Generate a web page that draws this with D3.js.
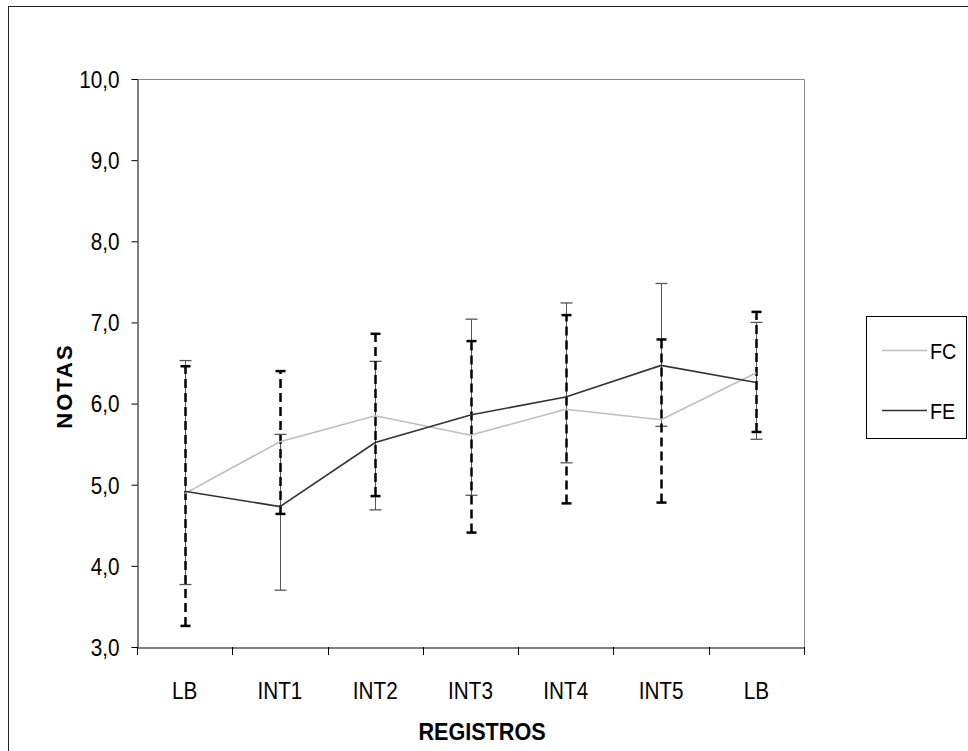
<!DOCTYPE html>
<html>
<head>
<meta charset="utf-8">
<script src="https://cdnjs.cloudflare.com/ajax/libs/d3/7.8.5/d3.min.js"></script>
<style>
  body { margin: 0; background: #fff; }
  text { font-family: "Liberation Sans", Arial, sans-serif; fill: #000; }
</style>
</head>
<body>
<div id="chart"></div>
<script>
// categories (LB appears twice, so positions are indexed)
var categories = ['LB', 'INT1', 'INT2', 'INT3', 'INT4', 'INT5', 'LB'];
var yTicks = [3, 4, 5, 6, 7, 8, 9, 10];

// mean scores
var fc = [4.89, 5.53, 5.85, 5.61, 5.93, 5.80, 6.38];
var fe = [4.92, 4.73, 5.52, 5.86, 6.08, 6.47, 6.26];

// dashed error bars (FC)
var fcHigh = [6.46, 6.40, 6.86, 6.77, 7.09, 6.79, 7.13];
var fcLow  = [3.26, 4.64, 4.86, 4.41, 4.77, 4.78, 5.65];

// thin error bars (FE)
var feHigh = [6.53, 5.62, 6.52, 7.04, 7.24, 7.48, 7.00];
var feLow  = [3.77, 3.70, 4.69, 4.87, 5.27, 5.72, 5.56];

var W = 968, H = 751;
var plotL = 137, plotR = 804, plotT = 79, plotB = 647;
var sx = 0.9; // text looks a bit narrow in the original

var svg = d3.select('#chart').append('svg')
  .attr('width', W)
  .attr('height', H);

// outer frame
svg.append('rect')
  .attr('x', 8.5).attr('y', 6.5)
  .attr('width', 1000).attr('height', 800)
  .attr('fill', 'none')
  .attr('stroke', '#222');

var idx = d3.range(categories.length);

var xScale = d3.scaleBand()
  .domain(idx)
  .range([plotL, plotR]);

var yScale = d3.scaleLinear()
  .domain([3, 10])
  .range([plotB, plotT]);

function xc(i) { return xScale(i) + xScale.bandwidth() / 2; }

// plot area border (top + right, grey)
svg.append('path')
  .attr('d', 'M' + plotL + ',' + (plotT + 0.5) + 'H' + (plotR + 0.5) + 'V' + plotB)
  .attr('fill', 'none')
  .attr('stroke', '#888');

// y axis
var yAxis = d3.axisLeft(yScale)
  .tickValues(yTicks)
  .tickSize(6)
  .tickSizeOuter(0)
  .tickFormat(function(d) { return d3.format('.1f')(d).replace('.', ','); });

svg.append('g')
  .attr('transform', 'translate(' + (plotL + 0.5) + ',0)')
  .call(yAxis)
  .call(function(g) {
    g.select('.domain').attr('stroke', '#000');
    g.selectAll('.tick line').attr('stroke', '#000');
    g.selectAll('.tick text')
      .attr('x', -18 / sx)
      .attr('dy', '0.36em')
      .attr('transform', 'scale(' + sx + ',1)')
      .style('font-size', '23px')
      .style('font-family', '"Liberation Sans", Arial, sans-serif')
      .attr('fill', '#000');
  });

// x axis: labels at band centres, ticks on band edges
var xAxis = d3.axisBottom(xScale)
  .tickSize(0)
  .tickSizeOuter(0)
  .tickFormat(function(i) { return categories[i]; });

svg.append('g')
  .attr('transform', 'translate(0,' + (plotB + 0.5) + ')')
  .call(xAxis)
  .call(function(g) {
    g.select('.domain').attr('stroke', '#000');
    g.selectAll('.tick text')
      .attr('y', 43)
      .attr('dy', '0.36em')
      .attr('transform', 'scale(' + sx + ',1)')
      .style('font-size', '23px')
      .style('font-family', '"Liberation Sans", Arial, sans-serif')
      .attr('fill', '#000');
  });

svg.append('g')
  .selectAll('line')
  .data(idx.concat([categories.length]))
  .enter()
  .append('line')
  .attr('x1', function(i) { return Math.round(i < categories.length ? xScale(i) : plotR) + 0.5; })
  .attr('x2', function(i) { return Math.round(i < categories.length ? xScale(i) : plotR) + 0.5; })
  .attr('y1', plotB)
  .attr('y2', plotB + 8)
  .attr('stroke', '#000');

// thin solid error bars
var thin = svg.append('g');
idx.forEach(function(i) {
  var x = Math.round(xc(i)) + 0.5;
  thin.append('line')
    .attr('x1', x).attr('x2', x)
    .attr('y1', yScale(feHigh[i])).attr('y2', yScale(feLow[i]))
    .attr('stroke', '#555').attr('stroke-width', 1);
  [feHigh[i], feLow[i]].forEach(function(v) {
    thin.append('line')
      .attr('x1', x - 6).attr('x2', x + 6)
      .attr('y1', yScale(v)).attr('y2', yScale(v))
      .attr('stroke', '#555').attr('stroke-width', 1.3);
  });
});

// dashed error bars
var dashed = svg.append('g');
idx.forEach(function(i) {
  var x = Math.round(xc(i)) + 0.5;
  dashed.append('line')
    .attr('x1', x).attr('x2', x)
    .attr('y1', yScale(fcLow[i])).attr('y2', yScale(fcHigh[i]))
    .attr('stroke', '#000').attr('stroke-width', 2.5)
    .attr('stroke-dasharray', '9,5');
  [fcHigh[i], fcLow[i]].forEach(function(v) {
    dashed.append('line')
      .attr('x1', x - 5).attr('x2', x + 5)
      .attr('y1', yScale(v)).attr('y2', yScale(v))
      .attr('stroke', '#000').attr('stroke-width', 2.5);
  });
});

// lines
var line = d3.line()
  .x(function(d, i) { return xc(i); })
  .y(function(d) { return yScale(d); });

svg.append('path')
  .attr('d', line(fc))
  .attr('fill', 'none')
  .attr('stroke', '#bdbdbd')
  .attr('stroke-width', 1.6);

svg.append('path')
  .attr('d', line(fe))
  .attr('fill', 'none')
  .attr('stroke', '#333')
  .attr('stroke-width', 1.6);

// axis titles
svg.append('text')
  .attr('transform', 'translate(482,732) scale(' + sx + ',1)')
  .attr('text-anchor', 'middle')
  .attr('dominant-baseline', 'central')
  .style('font-size', '24px')
  .style('font-weight', 'bold')
  .text('REGISTROS');

svg.append('text')
  .attr('transform', 'translate(64,386) rotate(-90)')
  .attr('text-anchor', 'middle')
  .attr('dominant-baseline', 'central')
  .style('font-size', '22px')
  .style('font-weight', 'bold')
  .style('letter-spacing', '2px')
  .text('NOTAS');

// legend
var legendNames = ['FC', 'FE'];
var legendColors = ['#bdbdbd', '#333'];
var lg = svg.append('g');
lg.append('rect')
  .attr('x', 866.5).attr('y', 316.5)
  .attr('width', 100).attr('height', 122)
  .attr('fill', '#fff')
  .attr('stroke', '#000');

legendNames.forEach(function(name, k) {
  var y = 350 + k * 60;
  lg.append('line')
    .attr('x1', 882).attr('x2', 927)
    .attr('y1', y + 0.5).attr('y2', y + 0.5)
    .attr('stroke', legendColors[k])
    .attr('stroke-width', 1.6);
  lg.append('text')
    .attr('transform', 'translate(930,' + (y + 1) + ') scale(' + sx + ',1)')
    .attr('dominant-baseline', 'central')
    .style('font-size', '22px')
    .text(name);
});
</script>
</body>
</html>
